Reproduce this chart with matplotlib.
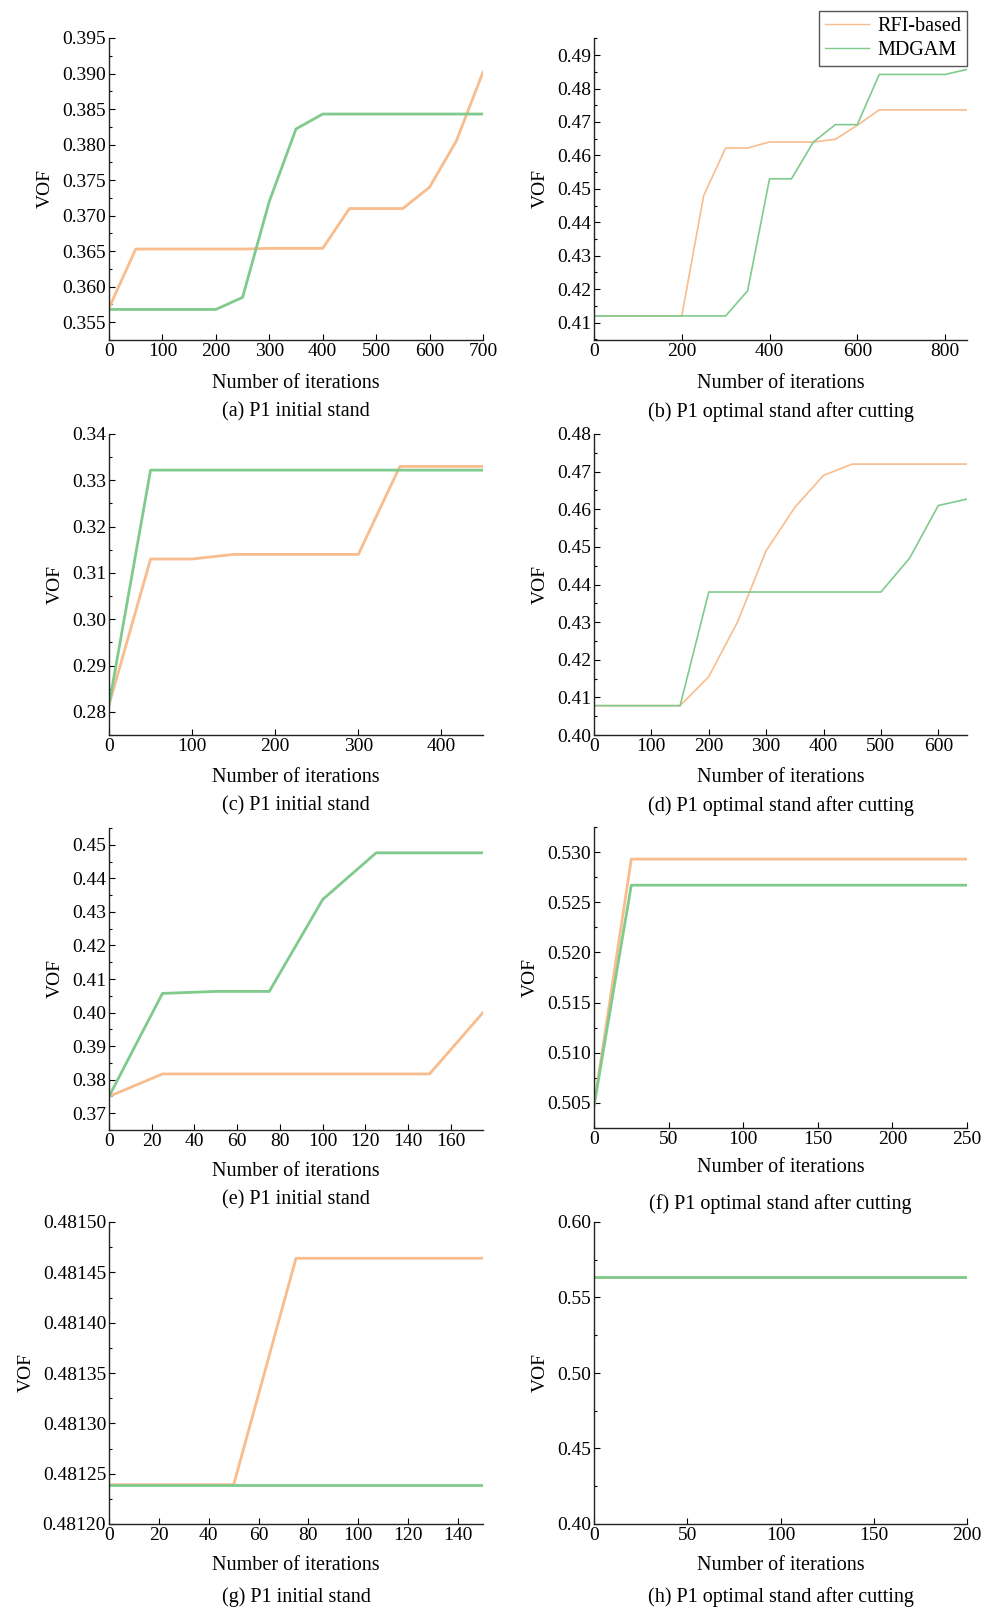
import matplotlib
matplotlib.use("Agg")
import matplotlib.pyplot as plt
from matplotlib.ticker import MultipleLocator, FormatStrFormatter, AutoMinorLocator

plt.rcParams["font.family"] = ["Liberation Serif", "DejaVu Serif"]
plt.rcParams["font.size"] = 14

ORANGE = "#F9BC8C"
GREEN = "#7FCA8C"

# (a) P1 initial stand
a_x = [0, 50, 100, 150, 200, 250, 300, 350, 400, 450, 500, 550, 600, 650, 700]
a_rfi = [0.3570, 0.3653, 0.3653, 0.3653, 0.3653, 0.3653, 0.3654, 0.3654, 0.3654,
         0.3710, 0.3710, 0.3710, 0.3740, 0.3805, 0.3902]
a_mdgam = [0.3568, 0.3568, 0.3568, 0.3568, 0.3568, 0.3585, 0.3720, 0.3822, 0.3843,
           0.3843, 0.3843, 0.3843, 0.3843, 0.3843, 0.3843]

# (b) P1 optimal stand after cutting
b_x = [0, 50, 100, 150, 200, 250, 300, 350, 400, 450, 500, 550, 600, 650, 700, 750, 800, 850]
b_rfi = [0.412, 0.412, 0.412, 0.412, 0.412, 0.448, 0.4622, 0.4622, 0.4640, 0.4640,
         0.4640, 0.4648, 0.4690, 0.4736, 0.4736, 0.4736, 0.4736, 0.4736]
b_mdgam = [0.412, 0.412, 0.412, 0.412, 0.412, 0.412, 0.412, 0.4195, 0.4530, 0.4530,
           0.4640, 0.4692, 0.4692, 0.4842, 0.4842, 0.4842, 0.4842, 0.4857]

# (c) P1 initial stand
c_x = [0, 50, 100, 150, 200, 250, 300, 350, 400, 450]
c_rfi = [0.2815, 0.3130, 0.3130, 0.3140, 0.3140, 0.3140, 0.3140, 0.3330, 0.3330, 0.3330]
c_mdgam = [0.2815, 0.3322, 0.3322, 0.3322, 0.3322, 0.3322, 0.3322, 0.3322, 0.3322, 0.3322]

# (d) P1 optimal stand after cutting
d_x = [0, 50, 100, 150, 200, 250, 300, 350, 400, 450, 500, 550, 600, 650]
d_rfi = [0.4078, 0.4078, 0.4078, 0.4078, 0.4155, 0.4300, 0.4490, 0.4605, 0.4690,
         0.4720, 0.4720, 0.4720, 0.4720, 0.4720]
d_mdgam = [0.4078, 0.4078, 0.4078, 0.4078, 0.4380, 0.4380, 0.4380, 0.4380, 0.4380,
           0.4380, 0.4380, 0.4470, 0.4610, 0.4627]

# (e) P1 initial stand
e_x = [0, 25, 50, 75, 100, 125, 150, 175]
e_rfi = [0.3750, 0.3817, 0.3817, 0.3817, 0.3817, 0.3817, 0.3817, 0.4000]
e_mdgam = [0.3750, 0.4057, 0.4063, 0.4063, 0.4337, 0.4476, 0.4476, 0.4476]

# (f) P1 optimal stand after cutting
f_x = [0, 25, 50, 75, 100, 125, 150, 175, 200, 225, 250]
f_rfi = [0.5047, 0.5293, 0.5293, 0.5293, 0.5293, 0.5293, 0.5293, 0.5293, 0.5293, 0.5293, 0.5293]
f_mdgam = [0.5047, 0.5267, 0.5267, 0.5267, 0.5267, 0.5267, 0.5267, 0.5267, 0.5267, 0.5267, 0.5267]

# (g) P1 initial stand
g_x = [0, 25, 50, 75, 100, 125, 150]
g_rfi = [0.481239, 0.481239, 0.481239, 0.481464, 0.481464, 0.481464, 0.481464]
g_mdgam = [0.481239, 0.481239, 0.481239, 0.481239, 0.481239, 0.481239, 0.481239]

# (h) P1 optimal stand after cutting
h_x = [0, 50, 100, 150, 200]
h_rfi = [0.5635, 0.5635, 0.5635, 0.5635, 0.5635]
h_mdgam = [0.5635, 0.5635, 0.5635, 0.5635, 0.5635]

captions = ["(a) P1 initial stand", "(b) P1 optimal stand after cutting",
            "(c) P1 initial stand", "(d) P1 optimal stand after cutting",
            "(e) P1 initial stand", "(f) P1 optimal stand after cutting",
            "(g) P1 initial stand", "(h) P1 optimal stand after cutting"]

W, H = 991, 1609
fig = plt.figure(figsize=(W / 100, H / 100), dpi=100)


def add_axes(x0, x1, y0, y1):
    # pixel box (top-left origin) -> figure fraction
    return fig.add_axes([x0 / W, 1 - y1 / H, (x1 - x0) / W, (y1 - y0) / H])


panels = [
    # x, rfi, mdgam, xlim, ylim, xstep, ystep, fmt, lw, box, xlabel_y, caption_y
    (a_x, a_rfi, a_mdgam, (0, 700), (0.3525, 0.395), 100, 0.005, "%.3f", 2.0,
     (109, 483, 38, 340), 383, 412),
    (b_x, b_rfi, b_mdgam, (0, 850), (0.4048, 0.4951), 200, 0.01, "%.2f", 1.2,
     (594, 967, 38, 340), 383, 412),
    (c_x, c_rfi, c_mdgam, (0, 450), (0.275, 0.34), 100, 0.01, "%.2f", 2.0,
     (109, 483, 434, 735), 777, 806),
    (d_x, d_rfi, d_mdgam, (0, 650), (0.40, 0.48), 100, 0.01, "%.2f", 1.2,
     (594, 967, 434, 735), 777, 806),
    (e_x, e_rfi, e_mdgam, (0, 175), (0.365, 0.455), 20, 0.01, "%.2f", 2.0,
     (109, 483, 828, 1130), 1172, 1200),
    (f_x, f_rfi, f_mdgam, (0, 250), (0.5025, 0.5325), 50, 0.005, "%.3f", 2.0,
     (594, 967, 827, 1128), 1168, 1204),
    (g_x, g_rfi, g_mdgam, (0, 150), (0.48120, 0.48150), 20, 0.00005, "%.5f", 2.0,
     (109, 483, 1222, 1524), 1566, 1597),
    (h_x, h_rfi, h_mdgam, (0, 200), (0.40, 0.60), 50, 0.05, "%.2f", 2.0,
     (594, 967, 1222, 1524), 1566, 1597),
]

for i, (x, rfi, mdgam, xlim, ylim, xs, ys, fmt, lw, box, xl_y, cap_y) in enumerate(panels):
    ax = add_axes(*box)
    ax.plot(x, rfi, color=ORANGE, lw=lw, label="RFI-based")
    ax.plot(x, mdgam, color=GREEN, lw=lw, label="MDGAM")
    ax.set_xlim(*xlim)
    ax.set_ylim(*ylim)
    ax.xaxis.set_major_locator(MultipleLocator(xs))
    ax.yaxis.set_major_locator(MultipleLocator(ys))
    ax.yaxis.set_minor_locator(AutoMinorLocator(2))
    ax.yaxis.set_major_formatter(FormatStrFormatter(fmt))
    ax.tick_params(direction="in", length=4, width=0.8, labelsize=14, pad=2)
    ax.tick_params(which="minor", direction="in", length=2, width=0.8)
    ax.spines["top"].set_visible(False)
    ax.spines["right"].set_visible(False)
    for s in ("left", "bottom"):
        ax.spines[s].set_color("#222222")
        ax.spines[s].set_linewidth(1.0)
    ax.set_ylabel("VOF", fontsize=14, labelpad=6)
    cx = (box[0] + box[1]) / 2
    fig.text(cx / W, 1 - xl_y / H, "Number of iterations", ha="center", va="center", fontsize=14.5)
    fig.text(cx / W, 1 - cap_y / H, captions[i], ha="center", va="center", fontsize=14.5)
    if i == 1:
        ax.legend(loc="upper right", bbox_to_anchor=(967 / W, 1 - 11 / H),
                  bbox_transform=fig.transFigure, fancybox=False, framealpha=1,
                  edgecolor="#555555", fontsize=14.5, handlelength=2.2,
                  borderpad=0.3, labelspacing=0.25, handletextpad=0.4, borderaxespad=0)
        for ln in ax.get_legend().get_lines():
            ln.set_linewidth(1.0)

fig.savefig("out.png", dpi=100)
